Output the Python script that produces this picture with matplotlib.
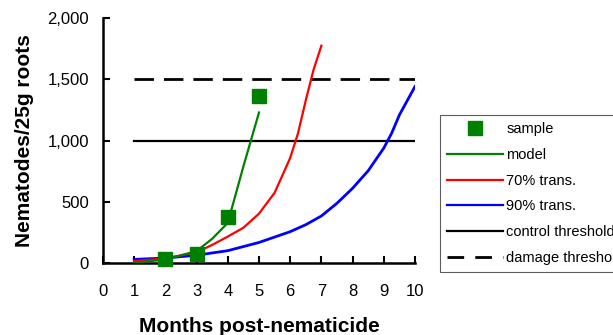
import matplotlib
matplotlib.use("Agg")
import matplotlib.pyplot as plt
from matplotlib.lines import Line2D

plt.rcParams['font.family'] = ['Liberation Sans', 'DejaVu Sans']

# Data
sample_x = [2, 3, 4, 5]
sample_y = [35, 76, 380, 1366]

model_x = [1, 2, 3, 3.5, 4, 4.25, 4.5, 4.75, 5]
model_y = [5, 30, 100, 200, 330, 560, 790, 1010, 1230]

t70_x = [1, 2, 3, 3.5, 4, 4.5, 5, 5.5, 5.8, 6, 6.25, 6.5, 6.75, 7]
t70_y = [18, 40, 90, 150, 218, 290, 405, 575, 745, 860, 1060, 1330, 1580, 1775]

t90_x = [1, 2, 3, 4, 5, 6, 6.5, 7, 7.5, 8, 8.5, 9, 9.25, 9.5, 10]
t90_y = [32, 43, 66, 103, 170, 258, 315, 386, 490, 612, 755, 940, 1060, 1210, 1442]

control_x = [1, 10]
control_y = [1000, 1000]
damage_x = [1, 10]
damage_y = [1500, 1500]

xticks = list(range(0, 11))
yticks = [0, 500, 1000, 1500, 2000]
ytick_labels = ['0', '500', '1,000', '1,500', '2,000']

fig = plt.figure(figsize=(6.13, 3.35), dpi=100)
ax = fig.add_axes([0.168, 0.214, 0.509, 0.732])

ax.plot(t90_x, t90_y, color='#0000ff', lw=2.0, zorder=3)
ax.plot(t70_x, t70_y, color='#ff0000', lw=1.6, zorder=3)
ax.plot(model_x, model_y, color='#008000', lw=1.6, zorder=4)
ax.plot(control_x, control_y, color='black', lw=1.6, zorder=2)
ax.plot(damage_x, damage_y, color='black', lw=2.0, dashes=(7, 3.6), zorder=2)
ax.plot(sample_x, sample_y, linestyle='none', marker='s', ms=9.5,
        color='#008000', mec='#008000', zorder=5, clip_on=False)

ax.set_xlim(0, 10)
ax.set_ylim(0, 2000)
ax.set_xticks(xticks)
ax.set_yticks(yticks)
ax.set_yticklabels(ytick_labels)
for s in ['top', 'right']:
    ax.spines[s].set_visible(False)
for s in ['left', 'bottom']:
    ax.spines[s].set_linewidth(1.8)
ax.tick_params(direction='in', length=5, width=1.5, labelsize=12)
ax.tick_params(axis='x', pad=15)
ax.tick_params(axis='y', pad=10)

ax.set_xlabel('Months post-nematicide', fontsize=15, fontweight='bold', labelpad=13)
ax.set_ylabel('Nematodes/25g roots', fontsize=15, fontweight='bold', labelpad=10)

handles = [
    Line2D([], [], linestyle='none', marker='s', ms=9.5, color='#008000'),
    Line2D([], [], color='#008000', lw=1.6),
    Line2D([], [], color='#ff0000', lw=1.6),
    Line2D([], [], color='#0000ff', lw=1.6),
    Line2D([], [], color='black', lw=1.6),
    Line2D([], [], color='black', lw=2.0, dashes=(6, 4)),
]
labels = ['sample', 'model', '70% trans.', '90% trans.', 'control threshold', 'damage threshold']
leg = fig.legend(handles, labels, loc='upper left', bbox_to_anchor=(440/613, 1-115/335),
                 fontsize=10.5, frameon=True, fancybox=False, edgecolor='#333333',
                 handlelength=3.8, handletextpad=0.25, labelspacing=0.8,
                 borderpad=0.5, borderaxespad=0)
leg.get_frame().set_linewidth(0.8)

fig.savefig('out.png', dpi=100)
